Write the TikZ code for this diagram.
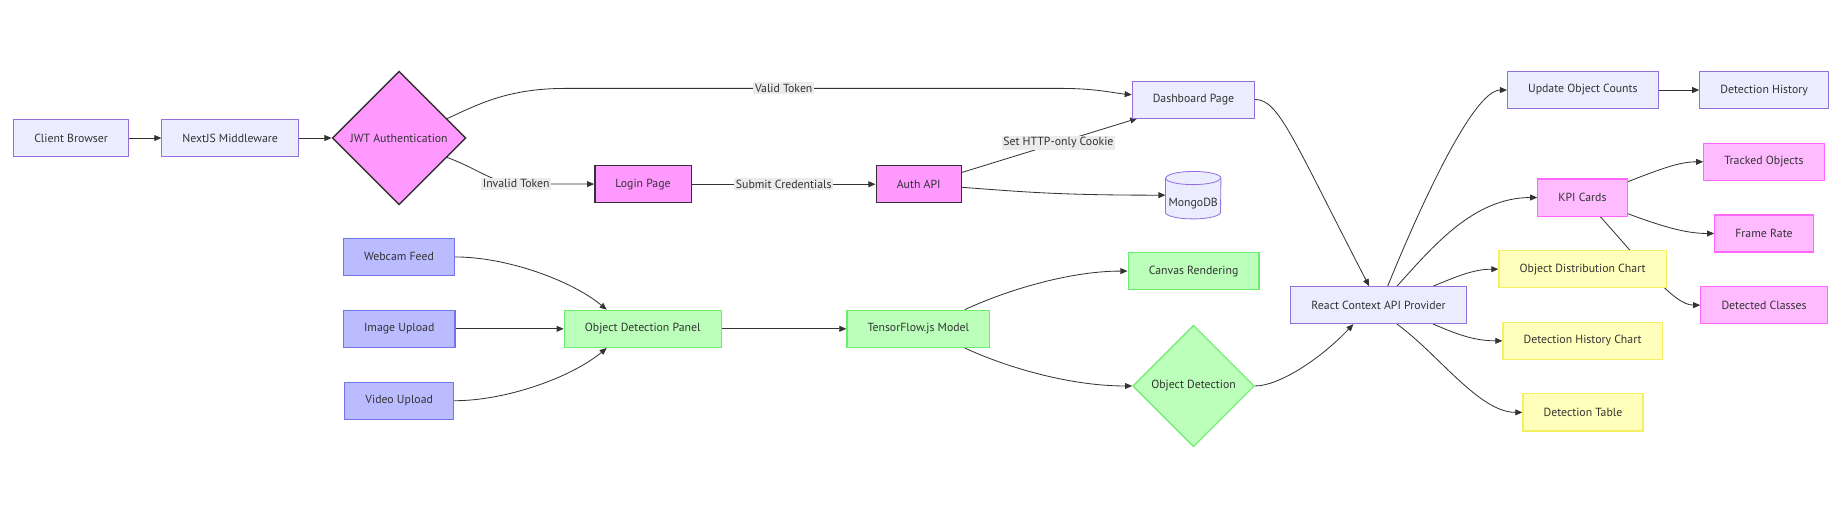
\documentclass[tikz,border=0pt]{standalone}
\usepackage{fontspec}
\setmainfont{PT Sans}
\usetikzlibrary{shapes.geometric,arrows.meta}
\definecolor{txt}{HTML}{333333}
\definecolor{lav}{HTML}{9370DB}
\definecolor{lavfill}{HTML}{ECECFF}
\definecolor{pinkfill}{HTML}{FF99FF}
\definecolor{srcfill}{HTML}{BBBBFF}
\definecolor{srcline}{HTML}{7373F5}
\definecolor{detfill}{HTML}{BBFFBB}
\definecolor{detline}{HTML}{6CEC6C}
\definecolor{kpifill}{HTML}{FFBBFF}
\definecolor{kpiline}{HTML}{FF66FF}
\definecolor{chartfill}{HTML}{FFFFBB}
\definecolor{chartline}{HTML}{F4F060}
\definecolor{tagfill}{HTML}{EBEBEB}
\pgfdeclarelayer{edges}
\pgfsetlayers{edges,main}

\begin{document}
\begin{tikzpicture}[x=1pt,y=-1pt,
    font=\fontsize{10}{12}\selectfont, text=txt,
    box/.style={rectangle,draw=lav,fill=lavfill,line width=0.7pt,
        minimum height=31.5pt,inner xsep=17.5pt,inner ysep=0pt},
    dia/.style={diamond,aspect=1,inner sep=0pt,minimum width=#1,minimum height=#1},
    pinkd/.style={draw=txt,fill=pinkfill,line width=1.2pt},
    src/.style={draw=srcline,fill=srcfill,line width=1pt},
    det/.style={draw=detline,fill=detfill,line width=1pt},
    kpid/.style={draw=kpiline,fill=kpifill,line width=1pt},
    chart/.style={draw=chartline,fill=chartfill,line width=1pt},
    db/.style={minimum width=46.7pt,minimum height=39.9pt,inner sep=0pt,
        text height=26pt,text depth=7pt},
    wire/.style={draw=txt,line width=0.7pt,-{Triangle[length=6pt,width=5pt]}},
    tag/.style={fill=tagfill,inner sep=1.5pt,text=txt}]
\useasboundingbox (0,0) rectangle (1568,429.3);

% auth branch
\node[box] (cb) at (60.3,117.1) {Client Browser};
\node[box] (mw) at (195.3,117.1) {NextJS Middleware};
\node[dia=113.4pt,pinkd] (jwt) at (338.6,117.1) {JWT Authentication};
\node[box] (dash) at (1012.6,84.4) {Dashboard Page};
\node[box,pinkd] (login) at (545.6,156.3) {Login Page};
\node[box,pinkd] (auth) at (779.5,156.3) {Auth API};
\node[db] (mongo) at (1012.4,165.6) {MongoDB};

% detection branch
\node[box,src] (cam) at (338.5,218) {Webcam Feed};
\node[box,src] (img) at (338.7,279) {Image Upload};
\node[box,src] (vid) at (338.7,340) {Video Upload};
\node[box,det] (panel) at (545.3,279) {Object Detection Panel};
\node[box,det] (tfm) at (779.2,279) {TensorFlow.js Model};
\node[box,det] (canvas) at (1012.7,230) {Canvas Rendering};
\node[dia=103.2pt,det] (objdet) at (1012.7,327.5) {Object Detection};

% dashboard
\node[box] (ctx) at (1169.7,258.9) {React Context API Provider};
\node[box] (counts) at (1343,76.4) {Update Object Counts};
\node[box] (hist) at (1496.8,76.4) {Detection History};
\node[box,kpid] (tracked) at (1496.7,137.3) {Tracked Objects};
\node[box,kpid] (kpi) at (1342.7,167.6) {KPI Cards};
\node[box,kpid] (fps) at (1496.7,198.1) {Frame Rate};
\node[box,chart] (odc) at (1342.8,228.4) {Object Distribution Chart};
\node[box,kpid] (classes) at (1496.7,258.9) {Detected Classes};
\node[box,chart] (dhc) at (1342.8,289.2) {Detection History Chart};
\node[box,chart] (table) at (1343.1,349.9) {Detection Table};

\begin{pgfonlayer}{edges}
% database cylinder
\draw[draw=lav,fill=lavfill,line width=0.7pt] ([yshift=-5.6pt]mongo.north west)
    -- ([yshift=5.6pt]mongo.south west)
    arc[start angle=180,end angle=360,x radius=23.35pt,y radius=5.6pt]
    -- ([yshift=-5.6pt]mongo.north east)
    arc[start angle=0,end angle=180,x radius=23.35pt,y radius=5.6pt] -- cycle;
\draw[draw=lav,line width=0.7pt] ([yshift=-5.6pt]mongo.north west)
    arc[start angle=180,end angle=360,x radius=23.35pt,y radius=5.6pt];

\draw[wire] (cb) -- (mw);
\draw[wire] (mw) -- (jwt);
\draw[wire] (jwt.22) .. controls (405,89) and (430,75) .. (480,75)
    -- (665,75) node[tag] {Valid Token}
    -- (900,75) .. controls (930,75) and (945,79) .. ([yshift=4pt]dash.west);
\draw[wire] (jwt.-22) .. controls (405,143) and (420,156) .. (438,156)
    node[tag] {Invalid Token} -- (login);
\draw[wire] (login) -- node[tag] {Submit Credentials} (auth);
\draw[wire] ([yshift=10pt]auth.east) -- node[tag,pos=0.55] {Set HTTP-only Cookie}
    ([xshift=4.7pt]dash.south west);
\draw[wire] ([yshift=-2.6pt]auth.east) .. controls (870,163) and (900,165.6) .. (mongo.west);
\draw[wire] (dash.east) .. controls (1085,84.4) and (1097,118) .. ([xshift=-8pt]ctx.north);

\draw[wire] (cam.east) .. controls (430,218) and (485,238) .. ([xshift=-30.5pt]panel.north);
\draw[wire] (img) -- (panel);
\draw[wire] (vid.east) .. controls (430,340) and (485,320) .. ([xshift=-30.5pt]panel.south);
\draw[wire] (panel) -- (tfm);
\draw[wire] ([xshift=39.4pt]tfm.north) .. controls (850,248) and (905,230) .. (canvas.west);
\draw[wire] ([xshift=39.4pt]tfm.south) .. controls (850,310) and (905,327.5) .. (objdet.west);
\draw[wire] (objdet.east) .. controls (1085,327.5) and (1120,305) .. ([xshift=-21.4pt]ctx.south);

\draw[wire] ([xshift=7.7pt]ctx.north) .. controls (1205,175) and (1250,76.4) .. (counts.west);
\draw[wire] ([xshift=15.6pt]ctx.north) .. controls (1215,210) and (1250,167.6) .. (kpi.west);
\draw[wire] ([xshift=46.4pt]ctx.north) .. controls (1235,235) and (1250,228.4) .. (odc.west);
\draw[wire] ([xshift=46.4pt]ctx.south) .. controls (1235,283) and (1250,289.2) .. (dhc.west);
\draw[wire] ([xshift=15.6pt]ctx.south) .. controls (1220,300) and (1255,349.9) .. (table.west);
\draw[wire] (counts) -- (hist);
\draw[wire] ([yshift=13.4pt]kpi.east) .. controls (1410,143) and (1425,137.3) .. (tracked.west);
\draw[wire] ([yshift=-13.7pt]kpi.east) .. controls (1410,192) and (1430,198.1) .. (fps.west);
\draw[wire] ([xshift=15.1pt]kpi.south) .. controls (1395,225) and (1420,258.9) .. (classes.west);
\end{pgfonlayer}
\end{tikzpicture}
\end{document}
